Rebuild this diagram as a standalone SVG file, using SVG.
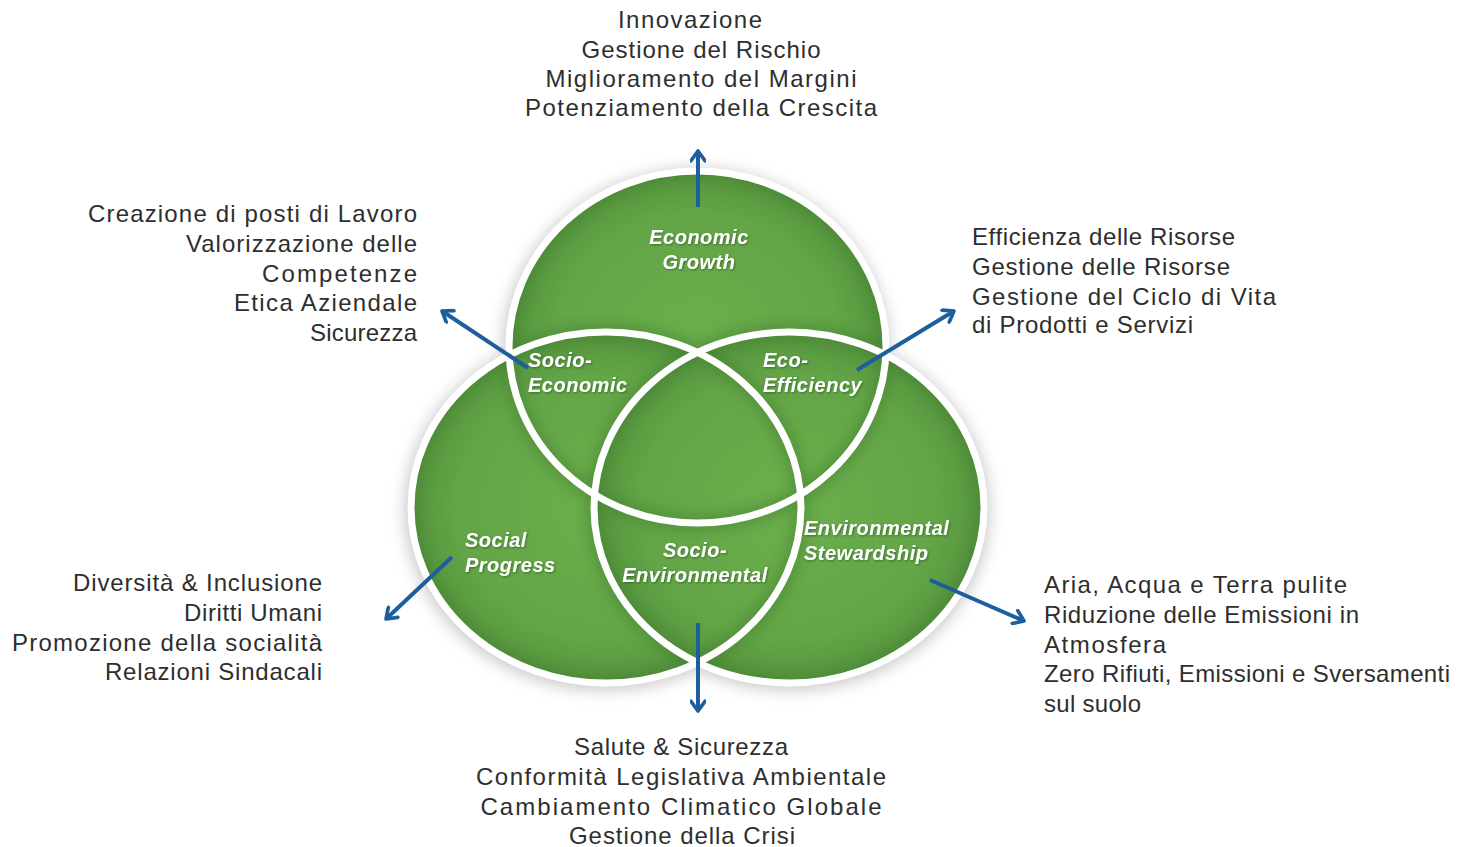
<svg xmlns="http://www.w3.org/2000/svg" width="1481" height="847" viewBox="0 0 1481 847">
<style>
.t{font-family:"Liberation Sans",Arial,sans-serif;font-size:24px;fill:#2e2e2e}
.r{text-anchor:end}
.m{text-anchor:middle}
.w{font-family:"Liberation Sans",Arial,sans-serif;font-size:20px;font-weight:bold;font-style:italic;fill:#ffffff;letter-spacing:0.5px}
.ring{fill:none;stroke:#ffffff;stroke-width:7}
.arrow{stroke:#1d5e9c;stroke-width:4;fill:none;marker-end:url(#ah)}
</style>
<defs>
<radialGradient id="g" cx="50%" cy="50%" r="50%">
<stop offset="0" stop-color="#6caf4d"/>
<stop offset="0.75" stop-color="#63a547"/>
<stop offset="1" stop-color="#56953e"/>
</radialGradient>
<clipPath id="u">
<ellipse cx="697.5" cy="347" rx="188.5" ry="176"/>
<ellipse cx="606" cy="507.5" rx="195" ry="175.5"/>
<ellipse cx="789" cy="507.5" rx="195" ry="175.5"/>
</clipPath>
<filter id="blur" x="-20%" y="-20%" width="140%" height="140%"><feGaussianBlur stdDeviation="7"/></filter>
<filter id="shadow" x="-20%" y="-20%" width="140%" height="140%"><feGaussianBlur stdDeviation="8"/></filter>
<filter id="ts" x="-10%" y="-20%" width="120%" height="140%"><feDropShadow dx="1" dy="1" stdDeviation="0.8" flood-color="#1f4a14" flood-opacity="0.6"/></filter>
<marker id="ah" viewBox="0 0 12 12" refX="9" refY="6" markerWidth="4.2" markerHeight="4.2" orient="auto" markerUnits="strokeWidth">
<path d="M2,1 L9,6 L2,11" fill="none" stroke="#1d5e9c" stroke-width="2.6" stroke-linecap="round" stroke-linejoin="round"/>
</marker>
</defs>
<rect width="1481" height="847" fill="#ffffff"/>

<g id="shadow-layer" filter="url(#shadow)" fill="#9a9a9a" opacity="0.55">
<ellipse cx="696" cy="350" rx="193" ry="181"/>
<ellipse cx="604" cy="510" rx="199" ry="180"/>
<ellipse cx="790" cy="510" rx="199" ry="180"/>
</g>

<g id="economic-growth">
<ellipse cx="697.5" cy="347" rx="188.5" ry="176" fill="url(#g)"/>
</g>
<g id="social-progress">
<ellipse cx="606" cy="507.5" rx="195" ry="175.5" fill="url(#g)"/>
</g>
<g id="environmental-stewardship">
<ellipse cx="789" cy="507.5" rx="195" ry="175.5" fill="url(#g)"/>
</g>

<g id="inner-shading" clip-path="url(#u)">
<g filter="url(#blur)" fill="none" stroke="#3f7a2e" stroke-width="14" opacity="0.55">
<ellipse cx="697.5" cy="347" rx="188.5" ry="176"/>
<ellipse cx="606" cy="507.5" rx="195" ry="175.5"/>
<ellipse cx="789" cy="507.5" rx="195" ry="175.5"/>
</g>
</g>

<g id="rings">
<ellipse class="ring" cx="697.5" cy="347" rx="188.5" ry="176"/>
<ellipse class="ring" cx="606" cy="507.5" rx="195" ry="175.5"/>
<ellipse class="ring" cx="789" cy="507.5" rx="195" ry="175.5"/>
</g>

<g id="circle-labels" filter="url(#ts)">
<g id="lbl-economic-growth"><text class="w m" x="699" y="244">Economic</text><text class="w m" x="699" y="269">Growth</text></g>
<g id="lbl-socio-economic"><text class="w" x="528" y="367">Socio-</text><text class="w" x="528" y="392">Economic</text></g>
<g id="lbl-eco-efficiency"><text class="w" x="763" y="367">Eco-</text><text class="w" x="763" y="392">Efficiency</text></g>
<g id="lbl-social-progress"><text class="w" x="465" y="547">Social</text><text class="w" x="465" y="572">Progress</text></g>
<g id="lbl-socio-environmental"><text class="w m" x="695" y="557">Socio-</text><text class="w m" x="695" y="582">Environmental</text></g>
<g id="lbl-environmental-stewardship"><text class="w" x="804" y="535">Environmental</text><text class="w" x="804" y="560">Stewardship</text></g>
</g>

<g id="connectors">
<line class="arrow" x1="698" y1="207" x2="698" y2="151"/>
<line class="arrow" x1="528" y1="368" x2="442" y2="311"/>
<line class="arrow" x1="857" y1="370" x2="954" y2="311"/>
<line class="arrow" x1="452" y1="557" x2="386" y2="619"/>
<line class="arrow" x1="698" y1="623" x2="698" y2="711"/>
<line class="arrow" x1="930" y1="580" x2="1024" y2="621"/>
</g>

<g id="text-economic">
<text class="t m" x="690" y="28" textLength="144" lengthAdjust="spacing">Innovazione</text>
<text class="t m" x="701" y="58" textLength="239" lengthAdjust="spacing">Gestione del Rischio</text>
<text class="t m" x="701" y="87" textLength="311" lengthAdjust="spacing">Miglioramento del Margini</text>
<text class="t m" x="701" y="116" textLength="352" lengthAdjust="spacing">Potenziamento della Crescita</text>
</g>
<g id="text-socio-economic">
<text class="t r" x="417" y="222" textLength="329" lengthAdjust="spacing">Creazione di posti di Lavoro</text>
<text class="t r" x="417" y="252" textLength="231" lengthAdjust="spacing">Valorizzazione delle</text>
<text class="t r" x="417" y="282" textLength="155" lengthAdjust="spacing">Competenze</text>
<text class="t r" x="417" y="311" textLength="183" lengthAdjust="spacing">Etica Aziendale</text>
<text class="t r" x="417" y="341" textLength="107" lengthAdjust="spacing">Sicurezza</text>
</g>
<g id="text-eco-efficiency">
<text class="t" x="972" y="245" textLength="263" lengthAdjust="spacing">Efficienza delle Risorse</text>
<text class="t" x="972" y="275" textLength="258" lengthAdjust="spacing">Gestione delle Risorse</text>
<text class="t" x="972" y="305" textLength="304" lengthAdjust="spacing">Gestione del Ciclo di Vita</text>
<text class="t" x="972" y="333" textLength="221" lengthAdjust="spacing">di Prodotti e Servizi</text>
</g>
<g id="text-social">
<text class="t r" x="322" y="591" textLength="249" lengthAdjust="spacing">Diversità &amp; Inclusione</text>
<text class="t r" x="322" y="621" textLength="138" lengthAdjust="spacing">Diritti Umani</text>
<text class="t r" x="322" y="651" textLength="310" lengthAdjust="spacing">Promozione della socialità</text>
<text class="t r" x="322" y="680" textLength="217" lengthAdjust="spacing">Relazioni Sindacali</text>
</g>
<g id="text-environmental">
<text class="t" x="1044" y="593" textLength="303" lengthAdjust="spacing">Aria, Acqua e Terra pulite</text>
<text class="t" x="1044" y="623" textLength="315" lengthAdjust="spacing">Riduzione delle Emissioni in</text>
<text class="t" x="1044" y="653" textLength="122" lengthAdjust="spacing">Atmosfera</text>
<text class="t" x="1044" y="682" textLength="406" lengthAdjust="spacing">Zero Rifiuti, Emissioni e Sversamenti</text>
<text class="t" x="1044" y="712" textLength="97" lengthAdjust="spacing">sul suolo</text>
</g>
<g id="text-socio-environmental">
<text class="t m" x="681" y="755" textLength="214" lengthAdjust="spacing">Salute &amp; Sicurezza</text>
<text class="t m" x="681" y="785" textLength="410" lengthAdjust="spacing">Conformità Legislativa Ambientale</text>
<text class="t m" x="681" y="815" textLength="401" lengthAdjust="spacing">Cambiamento Climatico Globale</text>
<text class="t m" x="682" y="844" textLength="226" lengthAdjust="spacing">Gestione della Crisi</text>
</g>
</svg>
